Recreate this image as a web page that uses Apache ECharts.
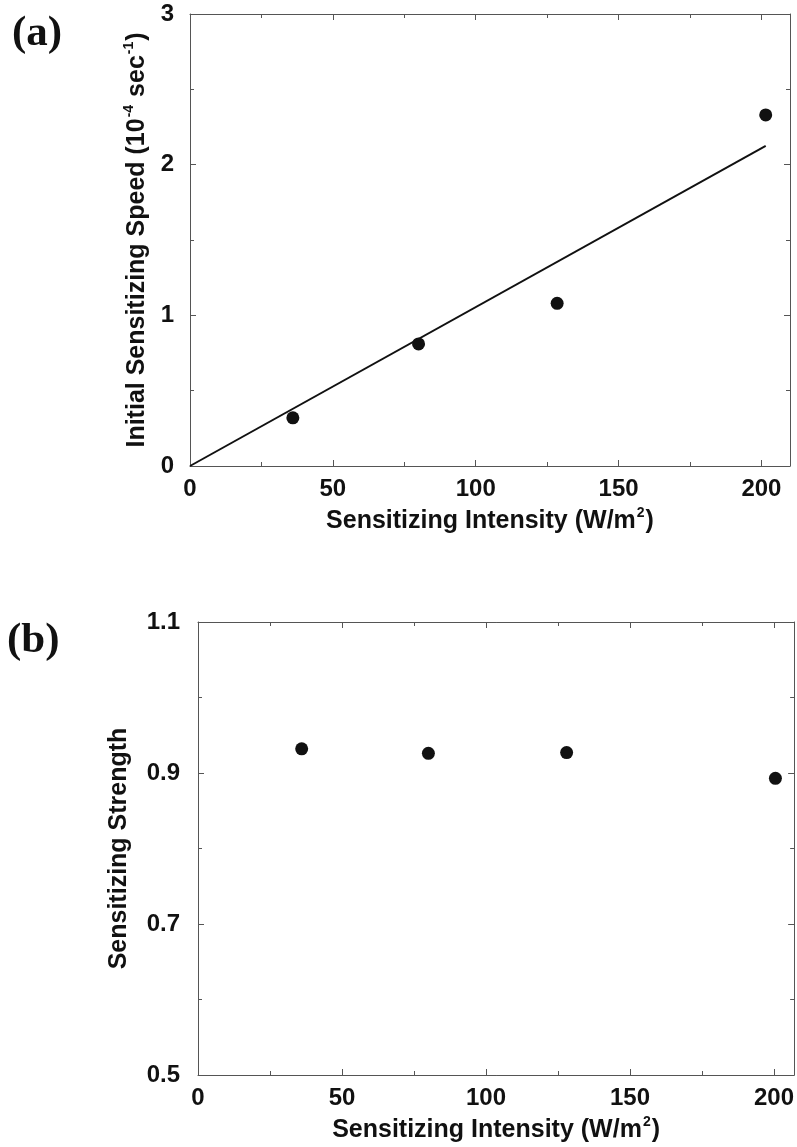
<!DOCTYPE html>
<html><head><meta charset="utf-8">
<script src="https://cdn.jsdelivr.net/npm/echarts@6/dist/echarts.min.js"></script>
<style>html,body{margin:0;padding:0;background:#fff}#c{width:797px;height:1147px}</style>
</head><body><div id="c"></div>
<script>
// Panel (a)
const intensityA = [36, 80, 128.5, 201.5];
const speedA = [0.32, 0.81, 1.08, 2.33];
const fitIntensityA = [0, 201.5];
const fitSpeedA = [0, 2.125];
// Panel (b)
const intensityB = [36, 80, 128, 200.5];
const strengthB = [0.932, 0.926, 0.927, 0.893];
// axis ranges [min, max, interval]
const xRangeA = [0, 210, 50];
const yRangeA = [0, 3, 1];
const xRangeB = [0, 207, 50];
const yRangeB = [0.5, 1.1, 0.2];

const FONT = 'Liberation Sans';
const lineCol = '#555';
const txt = '#111';
const TICK_FS = 24;
const TITLE_FS = 25;

function titleStyle() {
  return {fontFamily: FONT, fontWeight: 'bold', fontSize: TITLE_FS, color: txt,
    rich: {b: {fontFamily: FONT, fontWeight: 'bold', fontSize: TITLE_FS, color: txt, lineHeight: 30},
           sup: {fontFamily: FONT, fontWeight: 'bold', fontSize: 14, color: txt, verticalAlign: 'top', lineHeight: 30, padding: [0, 1, 14, 1]}}};
}
function xAx(grid, range, pos, withLabels, name, gap) {
  return {
    type: 'value', gridIndex: grid, position: pos, min: range[0], max: range[1], interval: range[2],
    axisLine: {show: true, onZero: false, lineStyle: {color: lineCol, width: 1}},
    axisTick: {show: true, inside: true, length: 6, lineStyle: {color: lineCol}},
    minorTick: {show: true, splitNumber: 2, length: 4, lineStyle: {color: lineCol}},
    splitLine: {show: false}, minorSplitLine: {show: false},
    axisLabel: {show: withLabels, showMaxLabel: false, margin: 11, fontFamily: FONT, fontWeight: 'bold', fontSize: TICK_FS, color: txt},
    name: withLabels ? name : '', nameLocation: 'middle', nameGap: gap,
    nameTextStyle: titleStyle()
  };
}
function yAx(grid, range, pos, withLabels, name, gap, dec, margin) {
  return {
    type: 'value', gridIndex: grid, position: pos, min: range[0], max: range[1], interval: range[2],
    axisLine: {show: true, onZero: false, lineStyle: {color: lineCol, width: 1}},
    axisTick: {show: true, inside: true, length: 6, lineStyle: {color: lineCol}},
    minorTick: {show: true, splitNumber: 2, length: 4, lineStyle: {color: lineCol}},
    splitLine: {show: false}, minorSplitLine: {show: false},
    axisLabel: {show: withLabels, margin: margin, fontFamily: FONT, fontWeight: 'bold', fontSize: TICK_FS, color: txt,
      formatter: v => v.toFixed(dec)},
    name: withLabels ? name : '', nameLocation: 'middle', nameGap: gap, nameRotate: 90,
    nameTextStyle: titleStyle()
  };
}

const xTitle = '{b|Sensitizing Intensity (W/m}{sup|2}{b|)}';
const yTitleA = '{b|Initial Sensitizing Speed (10}{sup|-4}{b| sec}{sup|-1}{b|)}';
const yTitleB = '{b|Sensitizing Strength}';

const chart = echarts.init(document.getElementById('c'), null, {renderer: 'canvas'});
chart.setOption({
  backgroundColor: '#fff',
  animation: false,
  grid: [
    {left: 190, top: 14, right: 7, bottom: 681},
    {left: 198, top: 622, right: 2, bottom: 72}
  ],
  xAxis: [
    xAx(0, xRangeA, 'bottom', true, xTitle, 40),
    xAx(0, xRangeA, 'top', false, '', 0),
    xAx(1, xRangeB, 'bottom', true, xTitle, 40),
    xAx(1, xRangeB, 'top', false, '', 0)
  ],
  yAxis: [
    yAx(0, yRangeA, 'left', true, yTitleA, 36, 0, 16),
    yAx(0, yRangeA, 'right', false, '', 0, 0, 16),
    yAx(1, yRangeB, 'left', true, yTitleB, 64, 1, 18),
    yAx(1, yRangeB, 'right', false, '', 0, 1, 18)
  ],
  graphic: [
    {type: 'text', left: 12, top: 12, style: {text: '(a)', font: 'bold 43px "Liberation Serif"', fill: '#111'}},
    {type: 'text', left: 7, top: 619, style: {text: '(b)', font: 'bold 43px "Liberation Serif"', fill: '#111'}}
  ],
  series: [
    {type: 'line', xAxisIndex: 0, yAxisIndex: 0, showSymbol: false, symbol: 'none',
     data: fitIntensityA.map((x, i) => [x, fitSpeedA[i]]), lineStyle: {color: '#111', width: 2}},
    {type: 'scatter', xAxisIndex: 0, yAxisIndex: 0, symbol: 'circle', symbolSize: 13,
     itemStyle: {color: '#111', opacity: 1}, data: intensityA.map((x, i) => [x, speedA[i]])},
    {type: 'scatter', xAxisIndex: 2, yAxisIndex: 2, symbol: 'circle', symbolSize: 13,
     itemStyle: {color: '#111', opacity: 1}, data: intensityB.map((x, i) => [x, strengthB[i]])}
  ]
});
</script></body></html>
